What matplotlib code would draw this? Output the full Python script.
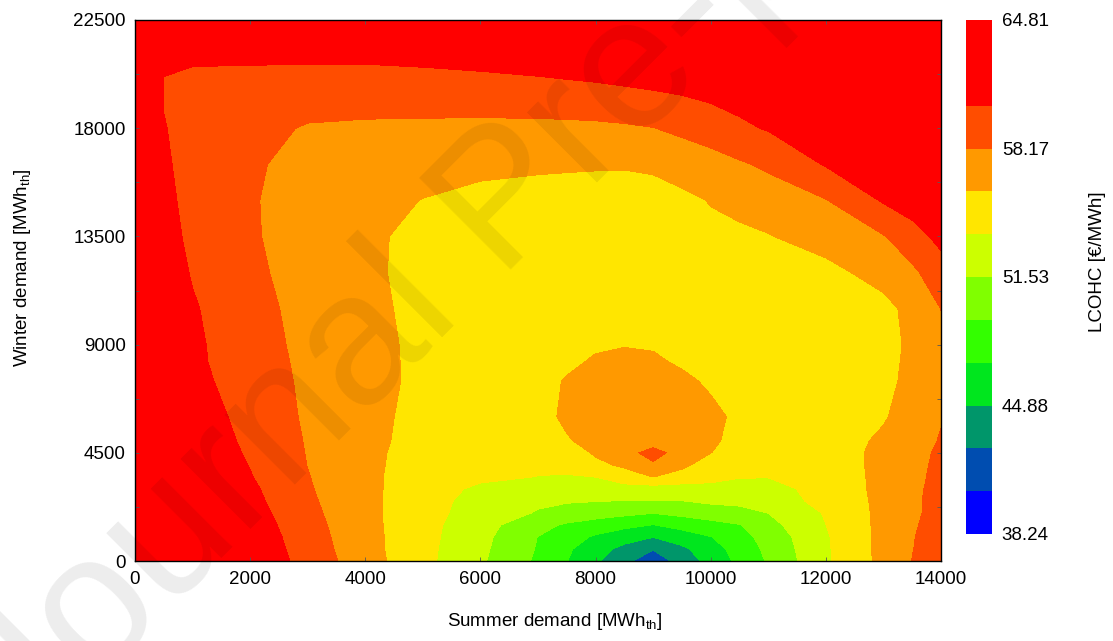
import matplotlib
matplotlib.use("Agg")
import matplotlib.pyplot as plt
import numpy as np

plt.rcParams['font.family'] = ['Liberation Sans', 'DejaVu Sans']
plt.rcParams['mathtext.fontset'] = 'custom'
plt.rcParams['mathtext.rm'] = 'Liberation Sans'
plt.rcParams['mathtext.it'] = 'Liberation Sans:italic'
plt.rcParams['mathtext.bf'] = 'Liberation Sans:bold'

# ---- data ----
summer_demand = [0, 500, 1000, 2000, 3000, 4000, 5000, 6000, 7000, 7500, 8000, 8500,
                 9000, 9500, 10000, 10500, 11000, 12000, 13000, 13500, 14000]
winter_demand = [0, 500, 1000, 1500, 2000, 2500, 3000, 3500, 4000, 4500, 5000,
                 6000, 7500, 8250, 9000, 10500, 12000, 13500, 15000, 16500, 18000,
                 19500, 21000, 22500]

lcohc = [
    [64.0, 63.5, 63.0, 62.2, 59.56, 56.9, 54.34, 51.84, 48.94, 47.16, 45.27, 43.14, 41.5, 43.47, 45.73, 47.6, 49.55, 53.40, 56.57, 58.2, 59.0],
    [64.0, 63.5, 63.0, 62.08, 59.35, 56.76, 54.37, 52.0, 49.14, 47.45, 45.76, 44.24, 42.8, 44.43, 46.17, 47.96, 49.83, 53.46, 56.59, 58.12, 59.0],
    [64.0, 63.45, 62.9, 61.9, 59.16, 56.70, 54.43, 52.17, 49.27, 48.02, 46.82, 45.85, 44.95, 46.04, 47.03, 48.5, 50.16, 53.52, 56.58, 58.07, 59.0],
    [64.0, 63.4, 62.8, 61.63, 58.96, 56.62, 54.47, 52.35, 50.02, 49.02, 48.33, 47.67, 47.05, 47.84, 48.57, 49.23, 50.81, 53.72, 56.57, 57.93, 59.0],
    [64.0, 63.3, 62.6, 61.32, 58.75, 56.55, 54.50, 52.81, 51.36, 50.85, 50.34, 49.85, 49.4, 49.93, 50.46, 50.84, 51.55, 53.93, 56.55, 57.79, 58.9],
    [64.0, 63.3, 62.6, 61.04, 58.55, 56.49, 54.67, 52.9, 51.9, 51.69, 51.59, 51.49, 51.46, 51.51, 51.90, 52.05, 52.92, 54.22, 56.55, 57.79, 58.9],
    [64.0, 63.2, 62.4, 60.81, 58.38, 56.45, 54.84, 53.3, 52.66, 52.62, 52.75, 52.85, 52.75, 52.85, 52.95, 52.93, 53.03, 54.48, 56.56, 57.73, 58.8],
    [64.0, 63.1, 62.2, 60.5, 58.25, 56.48, 54.8, 54.2, 53.7, 53.55, 53.76, 55.0, 56.0, 55.0, 54.5, 53.85, 53.8, 54.5, 56.59, 57.65, 58.7],
    [64.0, 63.0, 62.0, 60.31, 58.13, 56.50, 54.93, 54.1, 54.05, 54.46, 55.5, 56.3, 57.9, 56.5, 54.8, 54.46, 54.2, 54.6, 56.61, 57.59, 58.6],
    [64.0, 62.9, 61.8, 60.14, 58.06, 56.53, 55.0, 54.4, 54.4, 54.88, 56.2, 57.43, 58.9, 57.29, 55.99, 54.8, 54.4, 54.8, 56.53, 57.50, 58.5],
    [64.0, 62.8, 61.7, 59.97, 58.0, 56.58, 55.17, 54.6, 54.8, 55.8, 56.5, 57.1, 57.15, 56.9, 56.3, 55.3, 54.8, 54.85, 56.31, 57.33, 58.3],
    [64.0, 62.8, 61.6, 59.62, 57.88, 56.62, 55.3, 54.9, 55.3, 56.3, 56.8, 57.2, 57.3, 57.1, 56.5, 55.5, 55.2, 55.2, 55.76, 56.9, 58.05],
    [64.0, 62.5, 61.0, 59.33, 57.78, 56.68, 55.5, 55.0, 55.3, 56.1, 56.6, 56.9, 56.9, 56.4, 55.6, 55.2, 55.2, 55.3, 55.4, 56.5, 57.6],
    [64.0, 62.45, 60.83, 59.16, 57.72, 56.65, 55.5, 55.05, 55.25, 55.6, 56.2, 56.35, 56.3, 55.7, 55.3, 55.2, 55.2, 55.3, 55.3, 56.43, 57.55],
    [64.0, 62.4, 60.8, 59.03, 57.65, 56.6, 55.5, 55.1, 55.2, 55.45, 55.7, 55.88, 55.75, 55.5, 55.3, 55.25, 55.2, 55.3, 55.2, 56.37, 57.55],
    [64.0, 62.3, 60.6, 58.84, 57.53, 56.48, 55.4, 55.2, 55.2, 55.25, 55.3, 55.35, 55.35, 55.3, 55.3, 55.3, 55.3, 55.4, 55.3, 56.6, 58.2],
    [64.0, 61.5, 60.22, 58.57, 57.38, 56.36, 55.3, 55.15, 55.2, 55.25, 55.3, 55.3, 55.3, 55.3, 55.25, 55.25, 55.2, 55.3, 56.8, 57.75, 59.43],
    [64.0, 61.1, 59.96, 58.38, 57.31, 56.35, 55.4, 55.2, 55.2, 55.2, 55.25, 55.3, 55.3, 55.3, 55.5, 55.5, 55.85, 56.92, 58.05, 59.48, 61.0],
    [64.0, 60.76, 59.93, 58.31, 57.46, 56.65, 55.9, 55.5, 55.35, 55.3, 55.3, 55.3, 55.35, 55.5, 56.05, 56.64, 57.06, 58.08, 60.6, 61.5, 62.3],
    [64.0, 60.59, 59.87, 58.47, 57.47, 57.1, 56.84, 56.35, 56.2, 56.15, 56.1, 56.08, 56.2, 56.85, 57.3, 57.92, 58.53, 60.55, 61.6, 62.2, 62.8],
    [64.0, 60.44, 59.94, 58.84, 57.99, 57.85, 57.78, 57.7, 57.68, 57.7, 57.75, 57.89, 58.12, 58.63, 59.22, 60.0, 60.55, 61.3, 62.0, 62.4, 62.8],
    [64.0, 60.3, 59.9, 59.63, 59.24, 59.12, 59.18, 59.3, 59.48, 59.63, 59.77, 60.02, 60.28, 60.55, 60.9, 61.2, 61.6, 62.5, 63.2, 63.5, 63.8],
    [64.3, 60.49, 60.58, 60.64, 60.72, 60.75, 60.92, 61.17, 61.53, 61.75, 62.0, 62.2, 62.3, 62.6, 63.0, 63.2, 63.4, 63.8, 64.0, 64.2, 64.3],
    [64.5, 63.5, 62.5, 62.4, 62.4, 62.4, 62.5, 62.7, 63.0, 63.15, 63.3, 63.5, 63.6, 63.8, 64.0, 64.1, 64.2, 64.4, 64.5, 64.6, 64.7],
]

level_min = 38.24
level_max = 64.81
n_bands = 12
band_colors = ['#0000FF', '#004DB0', '#00966A', '#00E61E', '#33FF00', '#80FF00',
               '#CCFF00', '#FFE600', '#FF9900', '#FF4D00', '#FF0000', '#FF0000']
cbar_ticks = [38.24, 44.88, 51.53, 58.17, 64.81]
cbar_ticklabels = ['38.24', '44.88', '51.53', '58.17', '64.81']
x_ticks = [0, 2000, 4000, 6000, 8000, 10000, 12000, 14000]
y_ticks = [0, 4500, 9000, 13500, 18000, 22500]

# ---- figure ----
W, H = 1113, 641
FS = 13.5
fig = plt.figure(figsize=(W / 100, H / 100), dpi=100)
ax = fig.add_axes([135 / W, 1 - 561 / H, 806 / W, 541 / H])
cax = fig.add_axes([966 / W, 1 - 534 / H, 26 / W, 514 / H])

levels = np.linspace(level_min, level_max, n_bands + 1)
cf = ax.contourf(summer_demand, winter_demand, np.array(lcohc),
                 levels=levels, colors=band_colors, antialiased=False)

ax.set_xlim(0, 14000)
ax.set_ylim(0, 22500)
ax.set_xticks(x_ticks)
ax.set_yticks(y_ticks)
ax.set_yticks([2250, 6750, 11250, 15750, 20250], minor=True)
ax.tick_params(which='both', direction='in', top=True, right=True,
               length=3, width=0.6, color='0.35', labelsize=FS)
ax.tick_params(axis='x', pad=7)
ax.tick_params(axis='y', pad=6.5)
for s in ax.spines.values():
    s.set_linewidth(1.0)
    s.set_color('black')

ax.set_xlabel(r'Summer demand [MWh$_{\mathrm{th}}$]', fontsize=FS)
ax.xaxis.set_label_coords((555 - 135) / 806, -(611 - 561) / 541)
ax.set_ylabel(r'Winter demand [MWh$_{\mathrm{th}}$]', fontsize=FS)
ax.yaxis.set_label_coords((33 - 135) / 806, (561 - 268) / 541)

cbar = fig.colorbar(cf, cax=cax, ticks=cbar_ticks)
cbar.set_ticklabels(cbar_ticklabels)
cbar.outline.set_visible(False)
cax.tick_params(length=0, pad=7, labelsize=FS)
fig.text(1097 / W, 1 - 262 / H, 'LCOHC [€/MWh]', rotation=90,
         ha='center', va='center', fontsize=FS)

# watermark
fig.text(506 / W, 1 - 205 / H, 'Journal Pre-proof', rotation=45,
         rotation_mode='anchor', ha='center', va='center', fontsize=135,
         color='black', alpha=0.075, zorder=20)

fig.savefig('out.png', dpi=100)
